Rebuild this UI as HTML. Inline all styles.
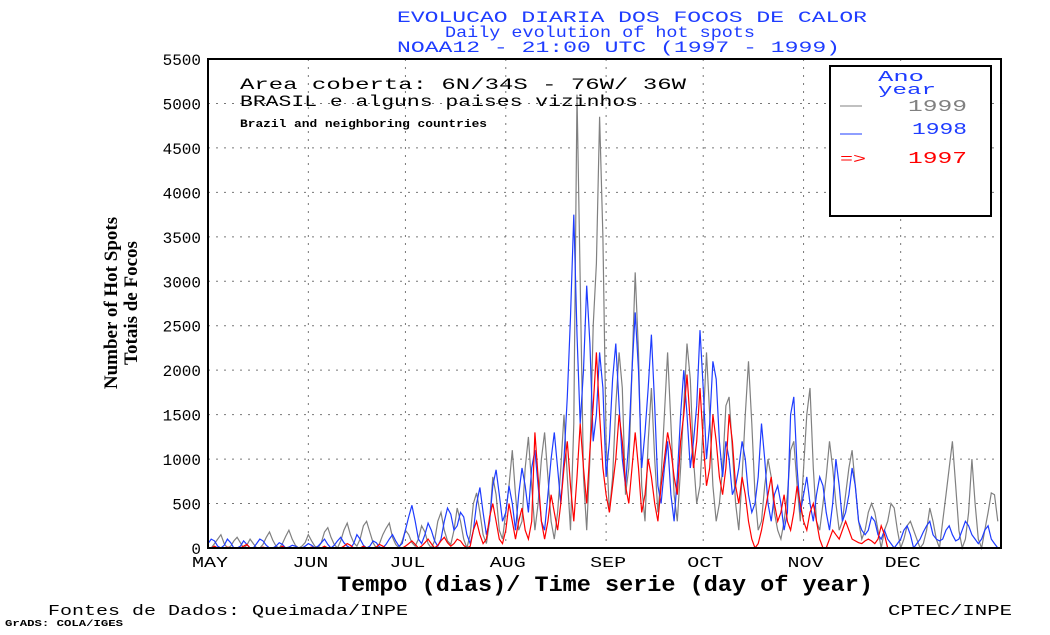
<!DOCTYPE html>
<html><head><meta charset="utf-8"><style>
body{margin:0;background:#fff;width:1050px;height:630px;overflow:hidden}
svg text{font-family:"Liberation Mono",monospace}
</style></head><body>
<svg id="c" width="1050" height="630" xmlns="http://www.w3.org/2000/svg">
<g fill="#1e3cff" font-size="16">
<text x="397" y="22" textLength="470" lengthAdjust="spacingAndGlyphs">EVOLUCAO DIARIA DOS FOCOS DE CALOR</text>
<text x="445" y="37" textLength="310" lengthAdjust="spacingAndGlyphs">Daily evolution of hot spots</text>
<text x="397" y="52" textLength="443" lengthAdjust="spacingAndGlyphs">NOAA12 - 21:00 UTC (1997 - 1999)</text>
</g>
<g id="grid"></g>
<g id="series"></g>
<rect x="208" y="59" width="793" height="489" fill="none" stroke="#000" stroke-width="2"/>
<g id="yt" font-size="16" text-anchor="end"></g>
<g id="xt" font-size="15" text-anchor="middle"></g>
<g font-weight="bold" font-size="19" text-anchor="middle">
<text transform="translate(117,303) rotate(-90)" style="font-family:'Liberation Serif',serif">Number of Hot Spots</text>
<text transform="translate(137,303) rotate(-90)" style="font-family:'Liberation Serif',serif">Totais de Focos</text>
</g>
<text x="337" y="591" font-size="22" font-weight="bold" textLength="536" lengthAdjust="spacingAndGlyphs">Tempo (dias)/ Time serie (day of year)</text>
<g>
<text x="240" y="89" font-size="16" textLength="446" lengthAdjust="spacingAndGlyphs">Area coberta:  6N/34S - 76W/ 36W</text>
<text x="240" y="106" font-size="16" textLength="398" lengthAdjust="spacingAndGlyphs">BRASIL e alguns paises vizinhos</text>
<text x="240" y="127" font-size="11" font-weight="bold" textLength="247" lengthAdjust="spacingAndGlyphs">Brazil and neighboring countries</text>
</g>
<g>
<rect x="830" y="66" width="161" height="150" fill="#fff" stroke="#000" stroke-width="2"/>
<text x="878" y="81" font-size="15" fill="#1e3cff" textLength="46" lengthAdjust="spacingAndGlyphs">Ano</text>
<text x="878" y="94" font-size="15" fill="#1e3cff" textLength="58" lengthAdjust="spacingAndGlyphs">year</text>
<line x1="840" y1="106" x2="862" y2="106" stroke="#808080"/><text x="908" y="111" font-size="17" fill="#808080" textLength="59" lengthAdjust="spacingAndGlyphs">1999</text>
<line x1="840" y1="134" x2="862" y2="134" stroke="#1e3cff"/><text x="912" y="134" font-size="17" fill="#1e3cff" textLength="55" lengthAdjust="spacingAndGlyphs">1998</text>
<text x="840" y="163" font-size="14" fill="#f00" textLength="26" lengthAdjust="spacingAndGlyphs">=&gt;</text><text x="908" y="163" font-size="17" fill="#f00" textLength="59" lengthAdjust="spacingAndGlyphs">1997</text>
</g>
<text x="48" y="615" font-size="15" textLength="360" lengthAdjust="spacingAndGlyphs">Fontes de Dados: Queimada/INPE</text>
<text x="888" y="615" font-size="15" textLength="124" lengthAdjust="spacingAndGlyphs">CPTEC/INPE</text>
<text x="5" y="626" font-size="9" font-weight="bold" textLength="118" lengthAdjust="spacingAndGlyphs">GrADS: COLA/IGES</text>
</svg>
<script>
const yTicks=[0,500,1000,1500,2000,2500,3000,3500,4000,4500,5000,5500];
const monthLabels=["MAY","JUN","JUL","AUG","SEP","OCT","NOV","DEC"];
const monthStart=[0,31,61,92,123,153,184,214];
const s1999=[0,0,50,100,150,50,0,20,80,120,60,0,30,100,50,0,0,40,120,180,90,20,0,50,130,200,100,30,0,20,60,
150,80,20,0,60,180,230,120,40,0,80,200,280,150,60,20,100,250,300,180,60,0,50,150,220,280,120,40,0,80,
200,150,60,20,100,250,180,50,0,80,300,400,200,80,40,200,450,300,100,0,150,500,620,400,150,50,300,800,600,200,100,
400,700,1100,600,200,300,900,1250,700,200,500,1000,1300,800,300,100,400,900,1500,800,200,1400,5100,3000,800,200,1000,2500,3200,4850,3500,
1200,400,800,1600,2200,1800,600,900,2000,3100,2200,700,300,1200,1800,1000,400,800,1500,2200,1400,600,300,900,1600,2300,1900,1000,500,700,
1400,2200,1500,700,300,500,900,1600,1700,1100,500,200,800,1500,2100,1400,600,200,300,700,1000,800,400,200,100,300,600,1100,1200,700,300,
900,1500,1800,900,300,200,500,800,1200,900,500,200,300,600,900,1100,700,300,100,200,400,500,400,200,0,200,300,500,450,200,
0,100,250,300,200,100,0,50,200,450,300,100,0,300,600,900,1200,700,200,0,100,400,1000,500,100,0,200,400,620,600,300];
const s1998=[50,100,80,20,0,30,100,60,0,0,20,80,40,0,0,50,100,80,30,0,0,20,60,40,0,10,30,20,0,0,20,
50,30,0,20,60,100,40,0,30,80,120,60,20,0,50,150,100,30,0,20,80,60,10,0,40,100,150,80,20,50,
200,350,480,300,100,50,150,280,200,80,20,100,300,450,380,200,250,400,350,150,50,200,500,680,400,150,300,700,880,600,300,
400,700,500,200,600,900,700,400,900,1100,700,300,200,600,1000,1300,900,500,1000,1700,2600,3750,2400,1400,2000,2950,2300,1200,1500,2200,1800,
800,1200,1900,2300,1600,1000,700,1200,2000,2650,2000,900,1300,1800,2400,1600,700,500,900,1200,600,300,800,1500,2000,1500,900,1200,1600,2450,
1800,1000,1400,2100,1900,1200,800,1200,1000,600,700,900,1200,1000,600,400,500,800,1400,1000,500,300,600,700,500,200,400,1500,1700,900,400,
600,800,500,300,600,800,700,400,200,500,1000,700,300,400,600,900,700,300,200,150,200,350,300,150,100,200,100,50,0,50,
100,200,250,150,0,50,100,180,250,300,150,100,80,100,200,250,150,80,100,200,300,250,150,100,50,100,200,250,100,50,0];
const s1997=[0,0,20,0,0,0,10,0,0,0,0,20,40,0,0,0,0,10,0,0,0,0,0,20,0,0,0,0,0,0,0,
0,10,0,0,0,20,0,0,0,0,0,20,50,30,0,0,0,20,0,0,0,10,40,20,0,0,0,0,0,0,
20,50,80,40,0,20,60,100,50,0,30,80,120,60,20,50,100,80,30,0,20,200,300,150,50,100,350,500,300,100,50,
200,500,300,100,300,450,200,100,300,1300,800,300,100,300,600,400,200,500,900,1200,700,300,800,1400,900,500,1100,1600,2200,1500,900,
600,400,700,1000,1500,1200,700,500,900,1300,900,400,600,1000,800,500,300,700,1000,1300,1100,800,600,1200,1500,1950,1400,900,1200,1800,
1200,700,900,1500,1200,800,600,900,1500,1200,700,500,800,600,300,100,0,50,200,400,600,800,500,300,400,600,300,200,400,700,500,
300,200,400,500,300,100,0,0,100,200,150,100,200,300,200,100,80,60,50,80,100,80,50,100,250,150,0,0,0,0];
const X0=208,X1=1001,Y0=548,Y1=59,ND=245,YMAX=5500;
const xs=d=>X0+d*(X1-X0)/ND, ys=v=>Y0-v*(Y0-Y1)/YMAX;
const NS="http://www.w3.org/2000/svg";
function mk(t,a,p){const e=document.createElementNS(NS,t);for(const k in a)e.setAttribute(k,a[k]);p.appendChild(e);return e;}
const grid=document.getElementById('grid'),yt=document.getElementById('yt'),xt=document.getElementById('xt'),ser=document.getElementById('series');
yTicks.forEach(v=>{
  if(v>0&&v<YMAX){const l=mk('line',{x1:X0,x2:X1,y1:ys(v),y2:ys(v),stroke:'#777','stroke-dasharray':'2,6'},grid);
  
  }
  const t=mk('text',{x:X0-7,y:ys(v)+6},yt);t.textContent=v;
  
  
});
monthLabels.forEach((m,i)=>{
  const x=xs(monthStart[i]);
  if(i>0){const l=mk('line',{x1:x,x2:x,y1:Y1,y2:Y0,stroke:'#777','stroke-dasharray':'2,6'},grid);
  
  }
  const t=mk('text',{x:x+2,y:567,textLength:36,lengthAdjust:'spacingAndGlyphs'},xt);t.textContent=m;
  
  
});
[[s1999,'#808080','series-1999'],[s1998,'#1e3cff','series-1998'],[s1997,'#ff0000','series-1997']].forEach(([s,c,n])=>{
  const pts=s.map((v,i)=>xs(i).toFixed(1)+','+ys(v).toFixed(1)).join(' ');
  const p=mk('polyline',{points:pts,fill:'none',stroke:c,'stroke-width':1.2},ser);
  
  
});
</script>
</body></html>
